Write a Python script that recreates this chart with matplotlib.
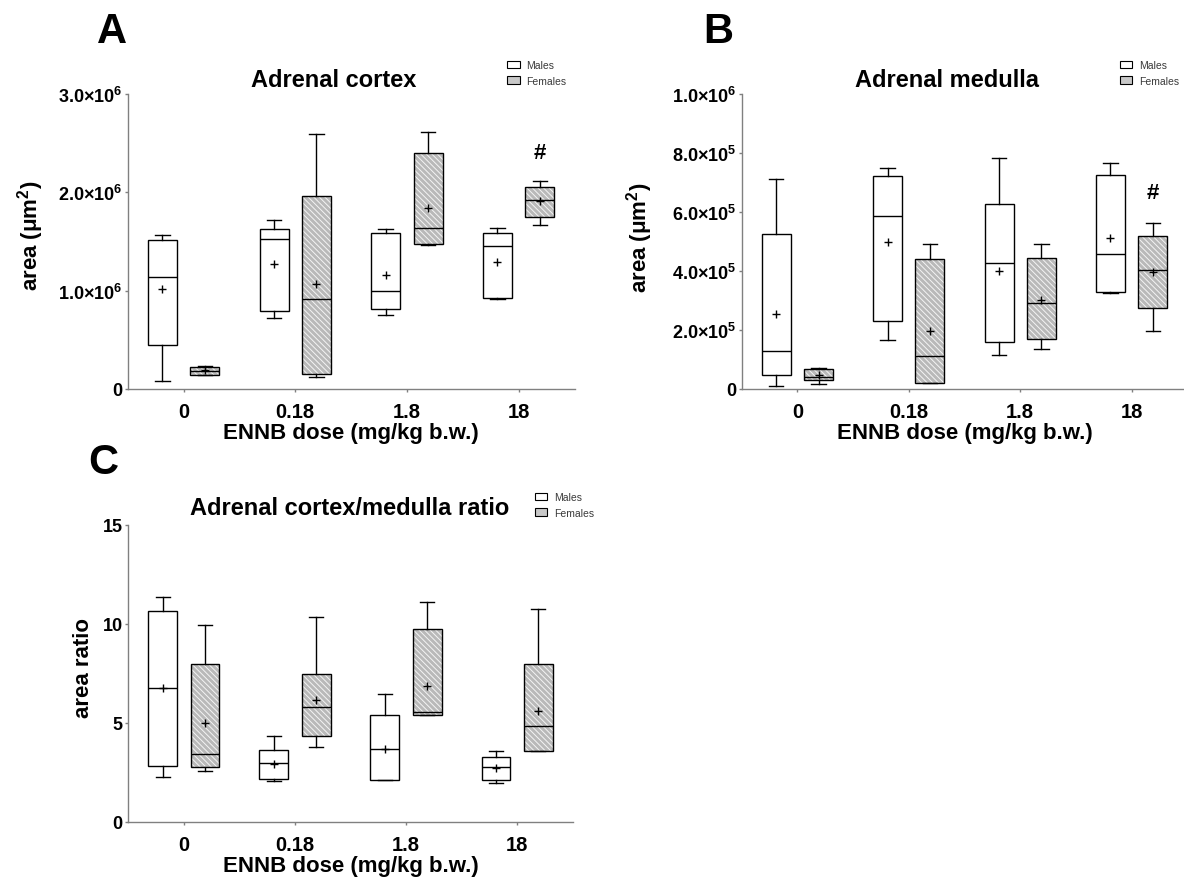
import matplotlib
matplotlib.use("Agg")
import matplotlib.pyplot as plt
import matplotlib.patches as mpatches

plt.rcParams['font.family'] = ['Liberation Sans', 'DejaVu Sans']
plt.rcParams['mathtext.fontset'] = 'custom'
plt.rcParams['mathtext.rm'] = 'Liberation Sans:bold'
plt.rcParams['mathtext.bf'] = 'Liberation Sans:bold'
plt.rcParams['mathtext.it'] = 'Liberation Sans:bold'
plt.rcParams['mathtext.default'] = 'rm'
plt.rcParams['hatch.linewidth'] = 0.7

# ---- data ----
doses = ['0', '0.18', '1.8', '18']
sexes = ['Males', 'Females']

# A: adrenal cortex area (um^2)
a_m_whislo = [0.082e6, 0.721e6, 0.748e6, 0.918e6]
a_m_q1 = [0.452e6, 0.793e6, 0.813e6, 0.929e6]
a_m_med = [1.143e6, 1.527e6, 0.997e6, 1.456e6]
a_m_q3 = [1.517e6, 1.629e6, 1.582e6, 1.588e6]
a_m_whishi = [1.571e6, 1.721e6, 1.629e6, 1.633e6]
a_m_mean = [1.017e6, 1.269e6, 1.156e6, 1.293e6]
a_f_whislo = [0.140e6, 0.119e6, 1.469e6, 1.667e6]
a_f_q1 = [0.145e6, 0.150e6, 1.476e6, 1.752e6]
a_f_med = [0.184e6, 0.912e6, 1.633e6, 1.922e6]
a_f_q3 = [0.228e6, 1.959e6, 2.401e6, 2.058e6]
a_f_whishi = [0.235e6, 2.592e6, 2.612e6, 2.119e6]
a_f_mean = [0.190e6, 1.071e6, 1.837e6, 1.912e6]
a_sig = [None, None, None, '#']
a_sig_y = 2.40e6

# B: adrenal medulla area (um^2)
b_m_whislo = [0.11e5, 1.66e5, 1.15e5, 3.27e5]
b_m_q1 = [0.48e5, 2.32e5, 1.61e5, 3.29e5]
b_m_med = [1.30e5, 5.86e5, 4.26e5, 4.58e5]
b_m_q3 = [5.24e5, 7.22e5, 6.26e5, 7.25e5]
b_m_whishi = [7.13e5, 7.49e5, 7.84e5, 7.65e5]
b_m_mean = [2.55e5, 4.98e5, 4.00e5, 5.12e5]
b_f_whislo = [0.18e5, 0.21e5, 1.35e5, 1.97e5]
b_f_q1 = [0.29e5, 0.21e5, 1.70e5, 2.75e5]
b_f_med = [0.42e5, 1.11e5, 2.91e5, 4.02e5]
b_f_q3 = [0.67e5, 4.40e5, 4.43e5, 5.17e5]
b_f_whishi = [0.72e5, 4.93e5, 4.90e5, 5.62e5]
b_f_mean = [0.48e5, 1.96e5, 3.02e5, 3.98e5]
b_sig = [None, None, None, '#']
b_sig_y = 6.67e5

# C: cortex/medulla area ratio
c_m_whislo = [2.25, 2.05, 2.12, 1.95]
c_m_q1 = [2.83, 2.15, 2.12, 2.10]
c_m_med = [6.74, 2.96, 3.66, 2.76]
c_m_q3 = [10.63, 3.64, 5.38, 3.25]
c_m_whishi = [11.34, 4.32, 6.47, 3.57]
c_m_mean = [6.74, 2.93, 3.69, 2.69]
c_f_whislo = [2.56, 3.79, 5.38, 3.56]
c_f_q1 = [2.76, 4.35, 5.38, 3.56]
c_f_med = [3.44, 5.79, 5.55, 4.82]
c_f_q3 = [7.99, 7.45, 9.75, 7.96]
c_f_whishi = [9.95, 10.34, 11.11, 10.77]
c_f_mean = [4.99, 6.13, 6.87, 5.57]

a_yticks = [0, 1e6, 2e6, 3e6]
a_yticklabels = ['0', r'$1.0{\times}10^{6}$', r'$2.0{\times}10^{6}$', r'$3.0{\times}10^{6}$']
b_yticks = [0, 2e5, 4e5, 6e5, 8e5, 1e6]
b_yticklabels = ['0', r'$2.0{\times}10^{5}$', r'$4.0{\times}10^{5}$', r'$6.0{\times}10^{5}$',
                 r'$8.0{\times}10^{5}$', r'$1.0{\times}10^{6}$']
c_yticks = [0, 5, 10, 15]
c_yticklabels = ['0', '5', '10', '15']

FEMALE_FACE = '#b9b9b9'
HATCH = '\\' * 6
W = 1184
H = 879


def make_stats(whislo, q1, med, q3, whishi, mean):
    stats = []
    for i in range(len(med)):
        stats.append({'whislo': whislo[i], 'q1': q1[i], 'med': med[i], 'q3': q3[i],
                      'whishi': whishi[i], 'mean': mean[i], 'fliers': []})
    return stats


def draw_boxes(ax, stats, offset, female):
    pos = [i + offset for i in range(len(stats))]
    if female:
        boxprops = dict(facecolor=FEMALE_FACE, edgecolor='#f4f4f4', hatch=HATCH, linewidth=0)
    else:
        boxprops = dict(facecolor='white', edgecolor='black', linewidth=1)
    res = ax.bxp(stats, positions=pos, widths=0.26, capwidths=0.13, patch_artist=True,
                 showmeans=True, showfliers=False, boxprops=boxprops,
                 medianprops=dict(color='black', linewidth=1),
                 whiskerprops=dict(color='black', linewidth=1),
                 capprops=dict(color='black', linewidth=1),
                 meanprops=dict(marker='+', markeredgecolor='black', markersize=5.5,
                                markeredgewidth=1))
    if female:
        for b in res['boxes']:
            ax.add_patch(mpatches.PathPatch(b.get_path(), transform=b.get_transform(),
                                            fill=False, edgecolor='black', linewidth=1,
                                            zorder=b.get_zorder() + 0.1))


def px(x, y):
    return x / W, 1 - y / H


def panel(rect, mstats, fstats, ylim, yticks, yticklabels):
    ax = fig.add_axes(rect)
    draw_boxes(ax, mstats, -0.19, False)
    draw_boxes(ax, fstats, 0.19, True)
    ax.set_xlim(-0.5, 3.5)
    ax.set_ylim(*ylim)
    ax.set_xticks(range(len(doses)))
    ax.set_xticklabels(doses, fontsize=14.5, fontweight='bold')
    ax.set_yticks(yticks)
    ax.set_yticklabels(yticklabels, fontsize=13, fontweight='bold')
    for s in ['top', 'right']:
        ax.spines[s].set_visible(False)
    for s in ['left', 'bottom']:
        ax.spines[s].set_color('#808080')
        ax.spines[s].set_linewidth(1)
    ax.tick_params(axis='x', length=2.5, width=1, color='#808080', pad=7)
    ax.tick_params(axis='y', length=2.5, width=1, color='#808080', pad=1.5)
    return ax


def legend(x, y):
    handles = [mpatches.Patch(facecolor='white', edgecolor='black', linewidth=0.8),
               mpatches.Patch(facecolor='#c8c8c8', edgecolor='black', linewidth=0.8)]
    leg = fig.legend(handles, sexes, loc='upper left', bbox_to_anchor=px(x, y),
                     frameon=False, fontsize=7.5, handlelength=1.2, handleheight=0.75,
                     handletextpad=0.65, labelspacing=0.55, borderpad=0, borderaxespad=0)
    for t in leg.get_texts():
        t.set_color('#3a3a3a')


fig = plt.figure(figsize=(W / 100, H / 100), dpi=100)

# panel A
ax_a = panel([127.7 / W, 1 - 390 / H, 446.8 / W, 295 / H],
             make_stats(a_m_whislo, a_m_q1, a_m_med, a_m_q3, a_m_whishi, a_m_mean),
             make_stats(a_f_whislo, a_f_q1, a_f_med, a_f_q3, a_f_whishi, a_f_mean),
             (0, 3e6), a_yticks, a_yticklabels)
for i, s in enumerate(a_sig):
    if s:
        ax_a.text(i + 0.19, a_sig_y, s, ha='center', va='center', fontsize=16, fontweight='bold')

# panel B
ax_b = panel([741.7 / W, 1 - 390 / H, 445.6 / W, 295 / H],
             make_stats(b_m_whislo, b_m_q1, b_m_med, b_m_q3, b_m_whishi, b_m_mean),
             make_stats(b_f_whislo, b_f_q1, b_f_med, b_f_q3, b_f_whishi, b_f_mean),
             (0, 1e6), b_yticks, b_yticklabels)
for i, s in enumerate(b_sig):
    if s:
        ax_b.text(i + 0.19, b_sig_y, s, ha='center', va='center', fontsize=16, fontweight='bold')

# panel C
ax_c = panel([128.3 / W, 1 - 822.5 / H, 444.4 / W, 296.5 / H],
             make_stats(c_m_whislo, c_m_q1, c_m_med, c_m_q3, c_m_whishi, c_m_mean),
             make_stats(c_f_whislo, c_f_q1, c_f_med, c_f_q3, c_f_whishi, c_f_mean),
             (0, 15), c_yticks, c_yticklabels)

# titles, letters, axis labels
fig.text(*px(111.5, 43.3), 'A', fontsize=30, fontweight='bold', ha='center', va='baseline')
fig.text(*px(718, 43.3), 'B', fontsize=30, fontweight='bold', ha='center', va='baseline')
fig.text(*px(103, 474), 'C', fontsize=30, fontweight='bold', ha='center', va='baseline')

fig.text(*px(333.7, 87.3), 'Adrenal cortex', fontsize=17, fontweight='bold', ha='center', va='baseline')
fig.text(*px(947, 87.3), 'Adrenal medulla', fontsize=17, fontweight='bold', ha='center', va='baseline')
fig.text(*px(349.7, 515.3), 'Adrenal cortex/medulla ratio', fontsize=17, fontweight='bold',
         ha='center', va='baseline')

xlab = 'ENNB dose (mg/kg b.w.)'
fig.text(*px(351, 439), xlab, fontsize=16, fontweight='bold', ha='center', va='baseline')
fig.text(*px(964.5, 439), xlab, fontsize=16, fontweight='bold', ha='center', va='baseline')
fig.text(*px(350.5, 871.7), xlab, fontsize=16, fontweight='bold', ha='center', va='baseline')

fig.text(*px(31, 236), r'area ($\mu$m$^2$)', fontsize=16, fontweight='bold', rotation=90,
         ha='center', va='center')
fig.text(*px(640, 237.5), r'area ($\mu$m$^2$)', fontsize=16, fontweight='bold', rotation=90,
         ha='center', va='center')
fig.text(*px(83.5, 668.3), 'area ratio', fontsize=16, fontweight='bold', rotation=90,
         ha='center', va='center')

legend(507, 61)
legend(1119.5, 61)
legend(534.5, 493)

fig.savefig('out.png', dpi=100)
